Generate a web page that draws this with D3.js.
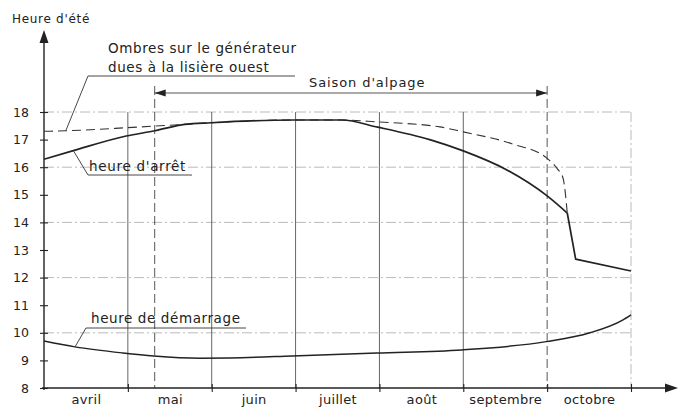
<!DOCTYPE html>
<html><head><meta charset="utf-8">
<script src="https://cdn.jsdelivr.net/npm/d3@7"></script>
<style>
html,body{margin:0;padding:0;background:#fff}
svg{display:block}
text{font-family:"DejaVu Sans",sans-serif;fill:#222}
</style></head>
<body>
<script>
// ---- data (x = month position: 0 = 1er avril, 7 = fin octobre; y = heure d'été) ----
const months = ["avril","mai","juin","juillet","août","septembre","octobre"];
const hourTicks = [8,9,10,11,12,13,14,15,16,17,18];
const gridHours = [10,12,14,16,18];
const monthBounds = [1,2,3,4,5];
const seasonStart = 1.32, seasonEnd = 6.0;

const arretX = [0, 0.35, 0.98, 1.32, 1.68, 1.99, 2.98, 3.55, 3.98, 4.6, 5.0, 5.52, 6.0, 6.24, 6.34, 7.0];
const arretY = [16.29, 16.6, 17.13, 17.32, 17.55, 17.61, 17.71, 17.71, 17.45, 17.0, 16.59, 15.9, 14.96, 14.34, 12.67, 12.24];

const ombresX = [0, 0.26, 0.98, 1.32, 1.66, 1.99, 2.98, 3.55, 3.98, 4.72, 5.0, 5.59, 6.0, 6.12, 6.19, 6.24];
const ombresY = [17.3, 17.32, 17.43, 17.49, 17.55, 17.61, 17.71, 17.71, 17.64, 17.46, 17.28, 16.84, 16.32, 15.95, 15.6, 14.34];

const demarX = [0, 0.37, 0.94, 1.31, 1.86, 2.22, 2.96, 3.97, 4.98, 5.99, 6.51, 6.9, 7.0];
const demarY = [9.7, 9.49, 9.27, 9.16, 9.08, 9.09, 9.16, 9.27, 9.38, 9.68, 10.0, 10.46, 10.65];

// ---- setup ----
const W = 688, H = 408;
const svg = d3.select("body").append("svg").attr("width", W).attr("height", H);
const x = d3.scaleLinear().domain([0, 7]).range([44, 631]);
const y = d3.scaleLinear().domain([8, 18]).range([388, 112]);
const ink = "#222";

// horizontal grid (dash-dot)
svg.append("g").selectAll("line").data(gridHours).join("line")
  .attr("x1", x(0)).attr("x2", x(7))
  .attr("y1", d => y(d)).attr("y2", d => y(d))
  .attr("stroke", "#a8a8a8").attr("stroke-width", 0.8)
  .attr("stroke-dasharray", "10,3,2,3");

// vertical month lines
svg.append("g").selectAll("line").data(monthBounds).join("line")
  .attr("x1", d => x(d)).attr("x2", d => x(d))
  .attr("y1", y(18)).attr("y2", y(8))
  .attr("stroke", "#555").attr("stroke-width", 0.9);
svg.append("line")
  .attr("x1", x(7)).attr("x2", x(7)).attr("y1", y(18)).attr("y2", y(8))
  .attr("stroke", "#a8a8a8").attr("stroke-width", 0.8).attr("stroke-dasharray", "10,3,2,3");

// season dashed verticals
svg.append("g").selectAll("line").data([seasonStart, seasonEnd]).join("line")
  .attr("x1", d => x(d)).attr("x2", d => x(d))
  .attr("y1", 86).attr("y2", y(8))
  .attr("stroke", "#444").attr("stroke-width", 0.9).attr("stroke-dasharray", "9,4");

// season arrow
const ay = 93;
svg.append("line").attr("x1", x(seasonStart)).attr("x2", x(seasonEnd)).attr("y1", ay).attr("y2", ay)
  .attr("stroke", "#444").attr("stroke-width", 0.9);
svg.append("path").attr("fill", ink)
  .attr("d", `M${x(seasonStart)},${ay} l11,-3.5 l0,7 Z`);
svg.append("path").attr("fill", ink)
  .attr("d", `M${x(seasonEnd)},${ay} l-11,-3.5 l0,7 Z`);
svg.append("text").attr("x", 309).attr("y", 86.5).attr("font-size", 13)
  .attr("letter-spacing", 0.9).text("Saison d'alpage");

// axes
const xAxis = svg.append("g").attr("transform", `translate(0,${y(8)})`)
  .call(d3.axisBottom(x).tickValues([1,2,3,4,5,6,7]).tickSize(4).tickFormat(""));
xAxis.select(".domain").remove();
xAxis.selectAll(".tick line").attr("y1", -4).attr("y2", 4).attr("stroke", ink).attr("stroke-width", 1.1);
svg.append("line").attr("x1", x(0) - 2).attr("x2", 670).attr("y1", y(8)).attr("y2", y(8))
  .attr("stroke", ink).attr("stroke-width", 1.4);
svg.append("path").attr("fill", ink).attr("d", `M678,${y(8)} l-13,-4.5 l0,9 Z`);

const mAxis = svg.append("g").attr("transform", `translate(0,${y(8)})`)
  .call(d3.axisBottom(x).tickValues(months.map((m, i) => i + 0.5)).tickSize(0)
    .tickFormat((d, i) => months[i]));
mAxis.select(".domain").remove();
mAxis.selectAll("text").attr("y", 7).attr("font-size", 13).attr("letter-spacing", 0.3)
  .attr("font-family", "DejaVu Sans").attr("fill", ink);

const yAxis = svg.append("g").attr("transform", `translate(${x(0)},0)`)
  .call(d3.axisLeft(y).tickValues(hourTicks).tickSize(4).tickPadding(11));
yAxis.select(".domain").remove();
yAxis.selectAll(".tick line").attr("x1", -4).attr("x2", 4).attr("stroke", ink).attr("stroke-width", 1.1);
yAxis.selectAll("text").attr("font-size", 12.5).attr("font-family", "DejaVu Sans").attr("fill", ink);
svg.append("line").attr("x1", x(0)).attr("x2", x(0)).attr("y1", y(8) + 2).attr("y2", 42)
  .attr("stroke", ink).attr("stroke-width", 1.4);
svg.append("path").attr("fill", ink).attr("d", `M${x(0)},30 l-4.5,13 l9,0 Z`);
svg.append("text").attr("x", 12).attr("y", 23).attr("font-size", 12)
  .attr("letter-spacing", 0.7).text("Heure d'été");

// curves
const smooth = d3.line().x(d => x(d[0])).y(d => y(d[1])).curve(d3.curveMonotoneX);
const straight = d3.line().x(d => x(d[0])).y(d => y(d[1]));
const zip = (a, b) => a.map((v, i) => [v, b[i]]);

svg.append("path").datum(zip(ombresX, ombresY)).attr("d", smooth)
  .attr("fill", "none").attr("stroke", "#333").attr("stroke-width", 1.1).attr("stroke-dasharray", "9,5");

const arret = zip(arretX, arretY);
const kink = 13; // sharp drop begins here
svg.append("path").datum(arret.slice(0, kink + 1)).attr("d", smooth)
  .attr("fill", "none").attr("stroke", ink).attr("stroke-width", 1.7).attr("stroke-linejoin", "round");
svg.append("path").datum(arret.slice(kink)).attr("d", straight)
  .attr("fill", "none").attr("stroke", ink).attr("stroke-width", 1.7).attr("stroke-linejoin", "round");

svg.append("path").datum(zip(demarX, demarY)).attr("d", smooth)
  .attr("fill", "none").attr("stroke", ink).attr("stroke-width", 1.5);

// annotations
const lead = "#333";
// Ombres
svg.append("text").attr("x", 108).attr("y", 53).attr("font-size", 13.5).attr("letter-spacing", 0.6)
  .text("Ombres sur le générateur");
svg.append("text").attr("x", 108).attr("y", 72).attr("font-size", 13.5).attr("letter-spacing", 0.6)
  .text("dues à la lisière ouest");
svg.append("polyline").attr("fill", "none").attr("stroke", lead).attr("stroke-width", 0.9)
  .attr("points", `${x(0.26)},${y(17.32)} 88,76 295,76`);
// heure d'arrêt
svg.append("text").attr("x", 89).attr("y", 171).attr("font-size", 13.5).attr("letter-spacing", 0.7)
  .text("heure d'arrêt");
svg.append("polyline").attr("fill", "none").attr("stroke", lead).attr("stroke-width", 0.9)
  .attr("points", `${x(0.35)},${y(16.6)} 88,175 192,175`);
// heure de démarrage
svg.append("text").attr("x", 91).attr("y", 323).attr("font-size", 13.5).attr("letter-spacing", 0.6)
  .text("heure de démarrage");
svg.append("polyline").attr("fill", "none").attr("stroke", lead).attr("stroke-width", 0.9)
  .attr("points", `${x(0.37)},${y(9.49)} 86,328 246,328`);
</script>
</body></html>
